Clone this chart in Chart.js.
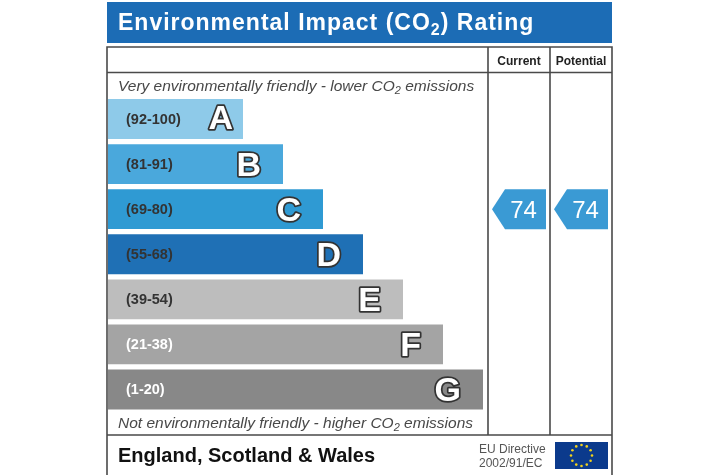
<!DOCTYPE html>
<html>
<head>
<meta charset="utf-8">
<script src="https://cdn.jsdelivr.net/npm/chart.js@4.4.1/dist/chart.umd.min.js"></script>
<style>
html,body{margin:0;padding:0;background:#fff;}
#wrap{width:720px;height:475px;}
</style>
</head>
<body>
<div id="wrap"><canvas id="c" width="720" height="475"></canvas></div>
<script>
// ---- data ----
const categories = ['A','B','C','D','E','F','G'];
const bandRanges = ['(92-100)','(81-91)','(69-80)','(55-68)','(39-54)','(21-38)','(1-20)'];
const bandMins = [92,81,69,55,39,21,1];
const barLengths = [27,35,43,51,59,67,75];
const currentRating = 74;
const potentialRating = 74;
const columnHeaders = ['Current','Potential'];

const bandColors = ['#8ecae9','#4aa8dc','#2f9ad3','#1f70b5','#bdbdbd','#a4a4a4','#888888'];
const rangeTextColors = ['#333','#333','#333','#333','#333','#fff','#fff'];
const arrowColor = '#3a9ad4';
const FONT = '"Liberation Sans", Arial, sans-serif';

function bandIndexFor(v){
  for(let i=0;i<bandMins.length;i++){ if(v>=bandMins[i]) return i; }
  return bandMins.length-1;
}

function drawSubText(ctx, parts, x, y, size, weight, style, spacing){
  let cx = x;
  ctx.letterSpacing = (spacing||0)+'px';
  parts.forEach(p=>{
    const sub = p[1];
    const fs = sub ? Math.round(size*0.7) : size;
    ctx.font = `${style||'normal'} ${weight||'normal'} ${fs}px ${FONT}`;
    ctx.fillText(p[0], cx, sub ? y + size*0.22 : y);
    cx += ctx.measureText(p[0]).width;
  });
  ctx.letterSpacing = '0px';
}

const framePlugin = {
  id:'frame',
  beforeDraw(chart){
    const ctx = chart.ctx;
    ctx.save();
    ctx.fillStyle='#fff';
    ctx.fillRect(0,0,chart.width,chart.height);
    // title bar
    ctx.fillStyle='#1c6cb5';
    ctx.fillRect(107,2,505,41);
    ctx.fillStyle='#fff';
    ctx.textBaseline='alphabetic';
    drawSubText(ctx, [['Environmental Impact (CO'],['2',true],[') Rating']], 118, 30, 23, 'bold', 'normal', 1);
    // frame lines
    ctx.strokeStyle='#4a4a4a';
    ctx.lineWidth=1.6;
    ctx.beginPath();
    ctx.moveTo(107,476); ctx.lineTo(107,47); ctx.lineTo(612,47); ctx.lineTo(612,476);
    ctx.moveTo(107,72.5); ctx.lineTo(612,72.5);
    ctx.moveTo(107,435); ctx.lineTo(612,435);
    ctx.moveTo(488,47); ctx.lineTo(488,435);
    ctx.moveTo(550,47); ctx.lineTo(550,435);
    ctx.stroke();
    // headers
    ctx.fillStyle='#222';
    ctx.font=`bold 12px ${FONT}`;
    ctx.textAlign='center';
    ctx.fillText(columnHeaders[0], 519, 65);
    ctx.fillText(columnHeaders[1], 581, 65);
    ctx.textAlign='left';
    // italic notes
    ctx.fillStyle='#484848';
    drawSubText(ctx, [['Very environmentally friendly - lower CO'],['2',true],[' emissions']], 118, 91, 15.5, 'normal','italic');
    drawSubText(ctx, [['Not environmentally friendly - higher CO'],['2',true],[' emissions']], 118, 428, 15.5, 'normal','italic');
    // footer
    ctx.fillStyle='#111';
    ctx.font=`bold 20px ${FONT}`;
    ctx.fillText('England, Scotland & Wales', 118, 462);
    ctx.fillStyle='#555';
    ctx.font=`12px ${FONT}`;
    ctx.fillText('EU Directive', 479, 453);
    ctx.fillText('2002/91/EC', 479, 467);
    // EU flag
    ctx.fillStyle='#0b3a8c';
    ctx.fillRect(555,442,53,27);
    ctx.fillStyle='#f2d21b';
    for(let k=0;k<12;k++){
      const a = k*Math.PI/6;
      const sx = 581.5 + 10.5*Math.cos(a), sy = 455.5 + 10.5*Math.sin(a);
      ctx.beginPath(); ctx.arc(sx,sy,1.3,0,Math.PI*2); ctx.fill();
    }
    ctx.restore();
  },
  afterDatasetsDraw(chart){
    const ctx = chart.ctx;
    const ys = chart.scales.y;
    const meta = chart.getDatasetMeta(0);
    ctx.save();
    meta.data.forEach((bar,i)=>{
      const yc = bar.y;
      // range text
      ctx.font=`bold 14.5px ${FONT}`;
      ctx.fillStyle=rangeTextColors[i];
      ctx.textAlign='left';
      ctx.textBaseline='middle';
      ctx.fillText(bandRanges[i], 126, yc+1);
      // letter
      ctx.font=`bold 34px ${FONT}`;
      ctx.textAlign='right';
      ctx.textBaseline='alphabetic';
      const inset = i===0 ? 10 : 22;
      const xr = bar.x - inset;
      const base = i===0 ? yc + 10 : yc + 12;
      ctx.lineJoin='round';
      ctx.lineWidth=3.5;
      ctx.strokeStyle='#333';
      ctx.strokeText(categories[i], xr, base);
      ctx.fillStyle='#fff';
      ctx.fillText(categories[i], xr, base);
    });
    // arrows
    const drawArrow=(val, tipX, rectL, rectR)=>{
      const yc = ys.getPixelForValue(bandIndexFor(val));
      const h = 40;
      ctx.fillStyle=arrowColor;
      ctx.beginPath();
      ctx.moveTo(tipX, yc);
      ctx.lineTo(rectL, yc-h/2);
      ctx.lineTo(rectR, yc-h/2);
      ctx.lineTo(rectR, yc+h/2);
      ctx.lineTo(rectL, yc+h/2);
      ctx.closePath();
      ctx.fill();
      ctx.fillStyle='#fff';
      ctx.font=`24px ${FONT}`;
      ctx.textAlign='center';
      ctx.textBaseline='alphabetic';
      ctx.fillText(String(val), (rectL+rectR)/2 - 2, yc+8.5);
    };
    drawArrow(currentRating, 492, 505, 546);
    drawArrow(potentialRating, 554, 567, 608);
    ctx.restore();
  }
};

new Chart(document.getElementById('c'), {
  type:'bar',
  data:{
    labels:categories,
    datasets:[{
      data:barLengths,
      backgroundColor:bandColors,
      borderWidth:0,
      categoryPercentage:1,
      barPercentage:0.885
    }]
  },
  options:{
    indexAxis:'y',
    responsive:false,
    animation:false,
    devicePixelRatio:1,
    layout:{padding:{left:108,right:232,top:96.5,bottom:63}},
    plugins:{legend:{display:false},tooltip:{enabled:false}},
    scales:{
      x:{display:false,min:0,max:76},
      y:{display:false}
    }
  },
  plugins:[framePlugin]
});
</script>
</body>
</html>
